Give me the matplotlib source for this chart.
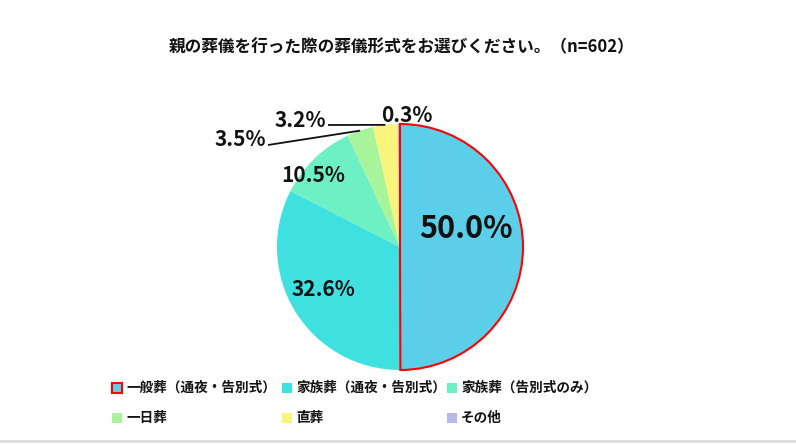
import numpy as np
import matplotlib.pyplot as plt
from matplotlib.patches import Rectangle

plt.rcParams['font.family'] = ['Noto Sans CJK JP', 'DejaVu Sans']

title = '親の葬儀を行った際の葬儀形式をお選びください。（n=602）'
categories = ['一般葬（通夜・告別式）', '家族葬（通夜・告別式）', '家族葬（告別式のみ）',
              '一日葬', '直葬', 'その他']
values = [50.0, 32.6, 10.5, 3.5, 3.2, 0.3]
colors = ['#5BCFEA', '#3FE0E0', '#6CF0C4', '#A8F49A', '#F8F47C', '#B8B8E8']

W, H = 796, 444
fig = plt.figure(figsize=(W / 100, H / 100), dpi=100)
ax = fig.add_axes([0, 0, 1, 1])
ax.set_aspect('equal')
ax.axis('off')

cx, cy, r = 400, H - 247, 123
wedges, _ = ax.pie(values, colors=colors, startangle=90, counterclock=False,
                   center=(cx, cy), radius=r, wedgeprops=dict(linewidth=0))
ax.set_xlim(0, W)
ax.set_ylim(0, H)

# red outline on first wedge
wedges[0].set_edgecolor('#FF0000')
wedges[0].set_linewidth(1.5)
wedges[0].set_zorder(3)

def y(py):
    return H - py

# label positions (image pixels)
label_pos = [(466, 229), (323, 290), (313, 175), (240, 139), (300, 120), (407, 115)]
sizes = [22, 15, 15, 15, 15, 15]
for i, v in enumerate(values):
    px, py = label_pos[i]
    ax.text(px, y(py), f'{v:.1f}%', ha='center', va='center',
            fontsize=sizes[i], fontweight='bold', color='#111111', zorder=5)

# leader lines for small slices
line_starts = {3: (268, 145), 4: (328, 125)}
for i, (sx, sy) in line_starts.items():
    w = wedges[i]
    ang = np.deg2rad((w.theta1 + w.theta2) / 2)
    ex, ey = cx + r * np.cos(ang), cy + r * np.sin(ang)
    ax.plot([sx, ex], [y(sy), ey], color='#111111', lw=1.3, zorder=4,
            solid_capstyle='butt')

fig.text(402 / W, 1 - 47 / H, title, ha='center', va='center',
         fontsize=12, fontweight='bold', color='#111111')

# legend, laid out row by row
col_x = [112, 282, 447]
row_y = [388, 418]
sq = 10
for i, name in enumerate(categories):
    lx = col_x[i % 3]
    ly = row_y[i // 3]
    if i == 0:
        ax.add_patch(Rectangle((lx, y(ly) - sq / 2), sq, sq, facecolor=colors[i],
                               edgecolor='#FF0000', linewidth=1.5))
    else:
        ax.add_patch(Rectangle((lx, y(ly) - sq / 2), sq, sq, facecolor=colors[i],
                               edgecolor='none'))
    ax.text(lx + sq + 4, y(ly), name, ha='left', va='center', fontsize=9.8,
            fontweight='bold', color='#111111')

# bottom gray border
fig.add_artist(plt.Line2D([0, 1], [3 / H, 3 / H], color='#DDDDDD', lw=2))

fig.savefig('out.png', dpi=100, facecolor='white')
